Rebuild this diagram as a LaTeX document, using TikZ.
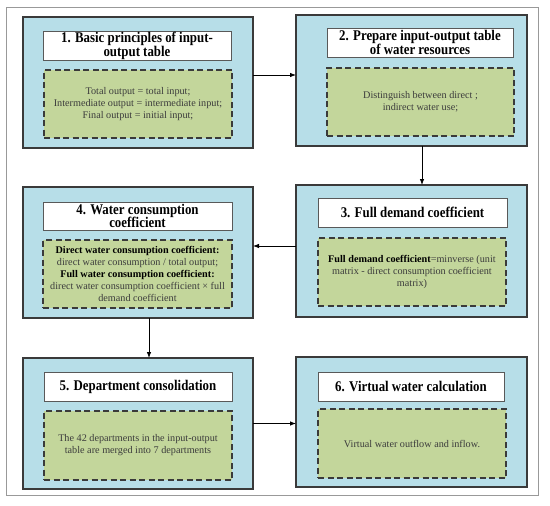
\documentclass[tikz,border=0pt]{standalone}
\usepackage{fontspec}
\setmainfont{Liberation Serif}
\newfontfamily\titlefont[FakeStretch=0.87]{Liberation Serif}
\usetikzlibrary{arrows.meta}
\definecolor{bluebg}{HTML}{B7DEE8}
\definecolor{greenbg}{HTML}{C3D69B}
\definecolor{edge}{HTML}{3A3A3A}
\definecolor{bodytxt}{HTML}{3C3C3C}
\tikzset{
  outer/.style={draw=edge, line width=1.3pt, fill=bluebg, inner sep=0pt, outer sep=0pt},
  titlebox/.style={draw=gray!70!black, line width=0.8pt, fill=white, inner sep=0pt, outer sep=0pt,
    align=center, font=\titlefont\fontsize{14.8}{13.8}\selectfont\bfseries, text=black},
  bodybox/.style={draw=edge, line width=1.2pt, dash pattern=on 6pt off 3.5pt, fill=greenbg, inner sep=0pt, outer sep=0pt,
    align=center, font=\fontsize{10.2}{12}\selectfont, text=bodytxt},
  arr/.style={draw=black, line width=0.8pt, -{Latex[length=6pt,width=4.5pt]}}
}
\begin{document}
\begin{tikzpicture}[x=1pt,y=-1pt]
\useasboundingbox (0,0) rectangle (550,506);
\fill[white] (0,0) rectangle (550,506);
\draw[gray!80, line width=0.8pt] (6,7) rectangle (538,495);
% box 1
\node[outer, minimum width=230pt, minimum height=131pt] (b1) at (138,82.5) {};
\node[titlebox, minimum width=188pt, minimum height=29pt] (t1) at (137,45.5) {1. Basic principles of input-\\output table};
\node[bodybox, minimum width=188pt, minimum height=68pt] (g1) at (138,104) {Total output = total input;\\Intermediate output = intermediate input;\\Final output = initial input;};
% box 2
\node[outer, minimum width=231pt, minimum height=131pt] (b2) at (411.5,80.5) {};
\node[titlebox, minimum width=186pt, minimum height=29pt] (t2) at (420,42.5) {2. Prepare input-output table\\of water resources};
\node[bodybox, minimum width=187pt, minimum height=68pt] (g2) at (420.5,102) {Distinguish between direct ;\\indirect water use;};
% box 3
\node[outer, minimum width=231pt, minimum height=132pt] (b3) at (411.5,251) {};
\node[titlebox, minimum width=189pt, minimum height=29pt] (t3) at (412.5,212.5) {3. Full demand coefficient};
\node[bodybox, minimum width=188pt, minimum height=68pt] (g3) at (412,272) {\textbf{\color{black}Full demand coefficient}=minverse (unit\\matrix - direct consumption coefficient\\matrix)};
% box 4
\node[outer, minimum width=230pt, minimum height=131pt] (b4) at (138,252.5) {};
\node[titlebox, minimum width=189pt, minimum height=28pt] (t4) at (137.5,216) {4. Water consumption\\coefficient};
\node[bodybox, minimum width=189pt, minimum height=68pt] (g4) at (137.5,274) {\textbf{\color{black}Direct water consumption coefficient:}\\direct water consumption / total output;\\\textbf{\color{black}Full water consumption coefficient:}\\direct water consumption coefficient × full\\demand coefficient};
% box 5
\node[outer, minimum width=230pt, minimum height=131pt] (b5) at (138,423.5) {};
\node[titlebox, minimum width=188pt, minimum height=29pt] (t5) at (138,386.5) {5. Department consolidation};
\node[bodybox, minimum width=188pt, minimum height=69pt] (g5) at (138,445.5) {The 42 departments in the input-output\\table are merged into 7 departments};
% box 6
\node[outer, minimum width=231pt, minimum height=130pt] (b6) at (411.5,422) {};
\node[titlebox, minimum width=186pt, minimum height=29pt] (t6) at (411,386.5) {6. Virtual water calculation};
\node[bodybox, minimum width=188pt, minimum height=69pt] (g6) at (412,443.5) {Virtual water outflow and inflow.};
% arrows
\draw[arr] ([yshift=7.5pt]b1.east) -- ([yshift=7.5pt]b1.east -| b2.west);
\draw[arr] ([xshift=10.5pt]b2.south) -- ([xshift=10.5pt]b2.south |- b3.north);
\draw[arr] ([yshift=5pt]b3.west) -- ([yshift=5pt]b3.west -| b4.east);
\draw[arr] ([xshift=11pt]b4.south) -- ([xshift=11pt]b4.south |- b5.north);
\draw[arr] (b5.east) -- (b5.east -| b6.west);
\end{tikzpicture}
\end{document}
